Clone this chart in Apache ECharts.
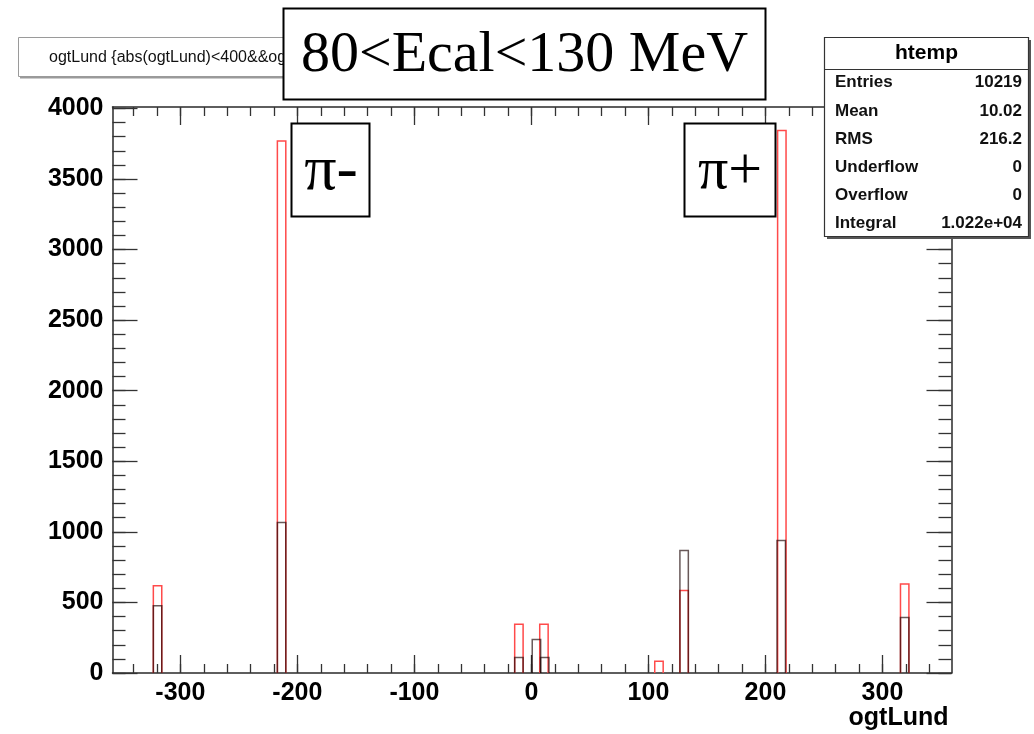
<!DOCTYPE html>
<html>
<head>
<meta charset="utf-8">
<script src="https://cdn.jsdelivr.net/npm/echarts@6/dist/echarts.min.js"></script>
<style>
  html, body { margin: 0; padding: 0; background: #ffffff; }
  #chart { width: 1034px; height: 734px; }
</style>
</head>
<body>
<div id="chart"></div>
<script>
// ogtLund distributions for the 80<Ecal<130 MeV selection (red: htemp, black: overlay)
const xRange = [-358, 359];
const yRange = [0, 4010];
const binWidth = 7.2;

const redCenters   = [-319.5, -213.5, -10.7, 10.7, 109, 130.5, 214, 319];
const redCounts    = [618, 3770, 345, 345, 83, 585, 3843, 630];
const blackCenters = [-319.5, -213.5, -10.7, 4.3, 11.4, 130.5, 213.5, 319];
const blackCounts  = [476, 1066, 109, 238, 109, 868, 939, 394];

const xMajorTicks = [-300, -200, -100, 0, 100, 200, 300];
const xMinorStep = 20;
const yMajorTicks = [0, 500, 1000, 1500, 2000, 2500, 3000, 3500, 4000];
const yMinorStep = 100;

const statsTitle  = 'htemp';
const statsLabels = ['Entries', 'Mean', 'RMS', 'Underflow', 'Overflow', 'Integral'];
const statsValues = ['10219', '10.02', '216.2', '0', '0', '1.022e+04'];

const histTitle = 'ogtLund {abs(ogtLund)<400&&og';
const selectionText = '80<Ecal<130 MeV';
const piMinusText = 'π-';
const piPlusText = 'π+';
const xAxisTitle = 'ogtLund';

function stepTicks(lo, hi, step) {
  const out = [];
  for (let v = lo; v <= hi + 1e-9; v += step) out.push(v);
  return out;
}
const xMinorTicks = stepTicks(-340, 340, xMinorStep);
const yMinorTicks = stepTicks(0, 4000, yMinorStep);

const sans = '"Liberation Sans", Arial, Helvetica, sans-serif';
const serif = '"Liberation Serif", "Times New Roman", serif';
const frameColor = '#2a2a2a';
const plainNumber = v => String(Math.round(v));

function makeXAxis(position, ticks, len, withLabels, withLine) {
  return {
    type: 'value', position, min: xRange[0], max: xRange[1],
    axisLine: { show: withLine, onZero: false, lineStyle: { color: frameColor, width: 1.5 } },
    axisTick: { show: true, inside: true, length: len, customValues: ticks,
                lineStyle: { color: '#333', width: 1.3 } },
    axisLabel: withLabels ? {
      show: true, customValues: xMajorTicks, margin: 8, formatter: plainNumber,
      color: '#000', fontFamily: sans, fontWeight: 'bold', fontSize: 25
    } : { show: false },
    splitLine: { show: false },
    name: withLabels ? xAxisTitle : '',
    nameLocation: 'end', nameGap: -3,
    nameTextStyle: { align: 'right', verticalAlign: 'top', padding: [33, 0, 0, 0],
                     color: '#000', fontFamily: sans, fontWeight: 'bold', fontSize: 25 }
  };
}

function makeYAxis(position, ticks, len, withLabels, withLine) {
  return {
    type: 'value', position, min: yRange[0], max: yRange[1],
    axisLine: { show: withLine, onZero: false, lineStyle: { color: frameColor, width: 1.5 } },
    axisTick: { show: true, inside: true, length: len, customValues: ticks,
                lineStyle: { color: '#333', width: 1.3 } },
    axisLabel: withLabels ? {
      show: true, customValues: yMajorTicks, margin: 9, formatter: plainNumber,
      color: '#000', fontFamily: sans, fontWeight: 'bold', fontSize: 25
    } : { show: false },
    splitLine: { show: false }
  };
}

function outlineSeries(name, centers, counts, color, z) {
  return {
    type: 'custom', name, z, xAxisIndex: 0, yAxisIndex: 0, clip: false,
    data: centers.map((c, i) => [c, counts[i]]),
    renderItem(params, api) {
      const c = api.value(0), v = api.value(1);
      const tl = api.coord([c - binWidth / 2, v]);
      const br = api.coord([c + binWidth / 2, 0]);
      return {
        type: 'polyline',
        shape: { points: [[tl[0], br[1]], [tl[0], tl[1]], [br[0], tl[1]], [br[0], br[1]]] },
        style: { stroke: color, fill: 'none', lineWidth: 1.5 }
      };
    }
  };
}

// annotation boxes and the statistics panel
const boxes = [];
// histogram title pave (partly covered by the selection label)
boxes.push({ type: 'rect', z: 90, shape: { x: 20, y: 39.5, width: 380, height: 39 }, style: { fill: '#9a9a9a' } });
boxes.push({ type: 'rect', z: 91, shape: { x: 18.5, y: 37.5, width: 380, height: 39 },
             style: { fill: '#fff', stroke: '#9a9a9a', lineWidth: 1 } });
boxes.push({ type: 'text', z: 92, x: 49, y: 57.5,
             style: { text: histTitle, font: '16px ' + sans, fill: '#111', verticalAlign: 'middle' } });
// selection label
boxes.push({ type: 'rect', z: 95, shape: { x: 283.5, y: 8.5, width: 482, height: 91 },
             style: { fill: '#fff', stroke: '#000', lineWidth: 2 } });
boxes.push({ type: 'text', z: 96, x: 524.5, y: 56,
             style: { text: selectionText, font: '58px ' + serif, fill: '#000', align: 'center', verticalAlign: 'middle' } });
// pion labels
boxes.push({ type: 'rect', z: 95, shape: { x: 291.5, y: 123.5, width: 78, height: 93 },
             style: { fill: '#fff', stroke: '#000', lineWidth: 2 } });
boxes.push({ type: 'text', z: 96, x: 331, y: 172,
             style: { text: piMinusText, font: '64px ' + serif, fill: '#000', align: 'center', verticalAlign: 'middle' } });
boxes.push({ type: 'rect', z: 95, shape: { x: 684.5, y: 123.5, width: 91, height: 93 },
             style: { fill: '#fff', stroke: '#000', lineWidth: 2 } });
boxes.push({ type: 'text', z: 96, x: 730, y: 172,
             style: { text: piPlusText, font: '60px ' + serif, fill: '#000', align: 'center', verticalAlign: 'middle' } });
// statistics panel
boxes.push({ type: 'rect', z: 95, shape: { x: 827, y: 40, width: 204, height: 199 }, style: { fill: '#555' } });
boxes.push({ type: 'rect', z: 96, shape: { x: 824.5, y: 37.5, width: 204, height: 199 },
             style: { fill: '#fff', stroke: '#333', lineWidth: 1.2 } });
boxes.push({ type: 'line', z: 97, shape: { x1: 824.5, y1: 69.5, x2: 1028.5, y2: 69.5 },
             style: { stroke: '#333', lineWidth: 1.2 } });
boxes.push({ type: 'text', z: 97, x: 926.5, y: 53,
             style: { text: statsTitle, font: 'bold 21px ' + sans, fill: '#000', align: 'center', verticalAlign: 'middle' } });
const rowY = [82, 111, 139, 167.5, 195.5, 223.5];
statsLabels.forEach((lab, i) => {
  boxes.push({ type: 'text', z: 97, x: 835, y: rowY[i],
               style: { text: lab, font: 'bold 17px ' + sans, fill: '#111', align: 'left', verticalAlign: 'middle' } });
  boxes.push({ type: 'text', z: 97, x: 1022, y: rowY[i],
               style: { text: statsValues[i], font: 'bold 17px ' + sans, fill: '#111', align: 'right', verticalAlign: 'middle' } });
});

const chart = echarts.init(document.getElementById('chart'), null, { renderer: 'canvas' });
chart.setOption({
  animation: false,
  backgroundColor: '#ffffff',
  grid: { left: 112.5, right: 82.5, top: 107, bottom: 61, containLabel: false },
  xAxis: [
    makeXAxis('bottom', xMajorTicks, 18, true, true),
    makeXAxis('top', xMajorTicks, 18, false, true),
    makeXAxis('bottom', xMinorTicks, 9, false, false),
    makeXAxis('top', xMinorTicks, 9, false, false)
  ],
  yAxis: [
    makeYAxis('left', yMajorTicks, 25, true, true),
    makeYAxis('right', yMajorTicks, 25, false, true),
    makeYAxis('left', yMinorTicks, 13, false, false),
    makeYAxis('right', yMinorTicks, 13, false, false)
  ],
  series: [
    outlineSeries('htemp', redCenters, redCounts, '#ff4a4a', 3),
    outlineSeries('overlay', blackCenters, blackCounts, 'rgba(25,0,0,0.65)', 4)
  ],
  graphic: { elements: boxes }
});
</script>
</body>
</html>
